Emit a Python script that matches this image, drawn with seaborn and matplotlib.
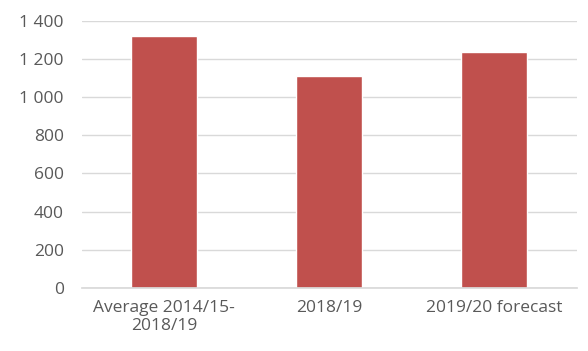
import matplotlib
matplotlib.use("Agg")
import matplotlib.pyplot as plt
import seaborn as sns
import pandas as pd
from matplotlib.ticker import FuncFormatter

# data
categories = ["Average 2014/15-\n2018/19", "2018/19", "2019/20 forecast"]
values = [1323, 1112, 1238]
bar_color = "#C0504D"

df = pd.DataFrame({"cat": categories, "val": values})

sns.set_theme(style="white")
plt.rcParams["font.family"] = ["Open Sans", "DejaVu Sans"]

fig = plt.figure(figsize=(5.88, 3.51), dpi=100)
ax = fig.add_axes([0.139, 0.18, 0.842, 0.76])

sns.barplot(data=df, x="cat", y="val", color=bar_color, saturation=1, width=0.4, ax=ax)

ax.set_ylim(0, 1400)
ax.set_xlim(-0.5, 2.5)
ax.set_yticks(range(0, 1401, 200))
ax.yaxis.set_major_formatter(FuncFormatter(lambda v, p: f"{int(v):,}".replace(",", " ")))
ax.grid(axis="y", color="#D9D9D9", linewidth=1)
ax.set_axisbelow(True)
for s in ["top", "right", "left"]:
    ax.spines[s].set_visible(False)
ax.spines["bottom"].set_color("#D9D9D9")
ax.set_xlabel("")
ax.set_ylabel("")
ax.tick_params(axis="both", length=0, labelsize=12.5, colors="#595959")
ax.tick_params(axis="y", pad=13)
ax.tick_params(axis="x", pad=9)
for t in ax.get_xticklabels():
    t.set_linespacing(1.1)

fig.savefig("out.png", dpi=100)
